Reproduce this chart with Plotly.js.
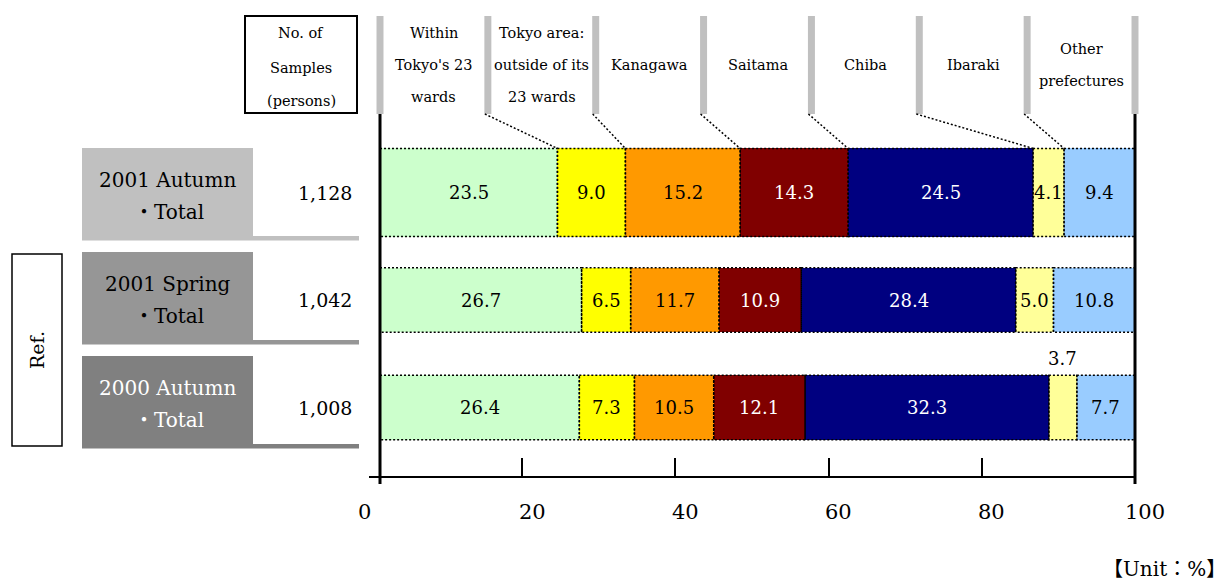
<!DOCTYPE html>
<html>
<head>
<meta charset="utf-8">
<script src="https://cdn.plot.ly/plotly-3.0.1.min.js"></script>
<style>
  html, body { margin: 0; padding: 0; background: #fff; }
  #chart { width: 1229px; height: 583px; }
</style>
</head>
<body>
<div id="chart"></div>
<script>
// Where respondents live, as a share of each survey's total (%)
const rowNames = ["2001 Autumn", "2001 Spring", "2000 Autumn"];
const rowSuffix = "・Total";
const sampleCounts = ["1,128", "1,042", "1,008"];
const countHeader = ["No. of", "Samples", "(persons)"];
const regionNames = ["Within Tokyo's 23 wards", "Tokyo area: outside of its 23 wards",
  "Kanagawa", "Saitama", "Chiba", "Ibaraki", "Other prefectures"];
const headerLines = [["Within", "Tokyo's 23", "wards"], ["Tokyo area:", "outside of its", "23 wards"],
  ["Kanagawa"], ["Saitama"], ["Chiba"], ["Ibaraki"], ["Other", "prefectures"]];
const tokyo23 = [23.5, 26.7, 26.4];
const tokyoOuter = [9.0, 6.5, 7.3];
const kanagawa = [15.2, 11.7, 10.5];
const saitama = [14.3, 10.9, 12.1];
const chiba = [24.5, 28.4, 32.3];
const ibaraki = [4.1, 5.0, 3.7];
const otherPref = [9.4, 10.8, 7.7];
const tickValues = [0, 20, 40, 60, 80, 100];
const refLabel = "Ref.";
const unitLabel = "【Unit：%】";

// ---- styling ----
const FONT = "DejaVu Serif, Noto Sans CJK JP, serif";
const regionColors = ["#CCFFCC", "#FFFF00", "#FF9900", "#800000", "#000080", "#FFFF99", "#99CCFF"];
const regionTextColors = ["#000", "#000", "#000", "#fff", "#fff", "#000", "#000"];
const rowBoxColors = ["#C0C0C0", "#969696", "#808080"];
const rowTextColors = ["#000", "#000", "#fff"];
const barWidths = [0.82, 0.6, 0.6];

// ---- page geometry (pixels) ----
const W = 1229, H = 583;
const BAR_LEFT = 380, BAR_RIGHT = 1135;   // 0 % and 100 % of the bars
const ROW0 = 192.5, ROW_PITCH = 107.5;    // first row centre, row spacing
const unit = (BAR_RIGHT - BAR_LEFT) / 100;
const xRange = [-BAR_LEFT / unit, (W - BAR_LEFT) / unit];
const yRange = [(H - ROW0) / ROW_PITCH, -ROW0 / ROW_PITCH];
const dataY = p => (p - ROW0) / ROW_PITCH;
const px = p => p / W;
const py = p => 1 - p / H;

const series = [tokyo23, tokyoOuter, kanagawa, saitama, chiba, ibaraki, otherPref];
const cats = rowNames.map(n => n + " " + rowSuffix);
const nCols = series.length;

const traces = series.map((vals, k) => ({
  type: "bar", orientation: "h", name: regionNames[k],
  y: cats, x: vals, width: barWidths,
  marker: { color: regionColors[k], line: { width: 0 } },
  hoverinfo: "skip", showlegend: false
}));
// carrier for the bottom percentage scale
traces.push({
  type: "scatter", mode: "none", xaxis: "x2", yaxis: "y",
  x: [tickValues[0], tickValues[tickValues.length - 1]], y: [cats[0], cats[0]],
  hoverinfo: "skip", showlegend: false
});

const shapes = [];
const annotations = [];
const txt = (o, size, color) => Object.assign({
  showarrow: false, xanchor: "center", yanchor: "middle",
  font: { family: FONT, size: size, color: color || "#000" }
}, o);

// segment outlines and value labels
cats.forEach((c, i) => {
  let start = 0;
  const half = barWidths[i] / 2;
  series.forEach((vals, k) => {
    const v = vals[i];
    const end = start + v;
    shapes.push({
      type: "rect", xref: "x", yref: "y", x0: start, x1: end, y0: i - half, y1: i + half,
      line: { color: "#000", width: 1.5, dash: "2px,2px" }, layer: "above"
    });
    const above = v < 4;
    annotations.push(txt({
      xref: "x", yref: "y", x: start + v / 2, y: above ? i - half : i,
      yanchor: above ? "bottom" : "middle", yshift: above ? 4 : 0,
      text: v.toFixed(1)
    }, 18, above ? "#000" : regionTextColors[k]));
    start = end;
  });
});

// column headers with grey separators
for (let k = 0; k <= nCols; k++) {
  const cx = k * 100 / nCols;
  shapes.push({
    type: "rect", xref: "x", yref: "paper",
    x0: cx - 3.5 / unit, x1: cx + 3.5 / unit, y0: py(114), y1: py(16),
    fillcolor: "#C0C0C0", line: { width: 0 }, layer: "below"
  });
}
headerLines.forEach((lines, k) => {
  const cx = (k + 0.5) * 100 / nCols;
  lines.forEach((line, j) => {
    const yp = 65 + (j - (lines.length - 1) / 2) * 32.5;
    annotations.push(txt({ xref: "x", yref: "paper", x: cx, y: py(yp), text: line }, 14.5));
  });
});

// dotted leaders from each separator to the matching boundary of the first bar
let boundary = 0;
for (let k = 1; k < nCols; k++) {
  boundary += series[k - 1][0];
  shapes.push({
    type: "line", xref: "x", yref: "y",
    x0: k * 100 / nCols - 3 / unit, y0: dataY(114),
    x1: boundary, y1: -barWidths[0] / 2,
    line: { color: "#000", width: 1.5, dash: "2px,2px" }
  });
}

// heavy frame lines at 0 % and 100 %
[0, 100].forEach(v => shapes.push({
  type: "line", xref: "x", yref: "paper", x0: v, x1: v, y0: py(484), y1: py(114),
  line: { color: "#000", width: 3 }
}));

// row name boxes
const boxTops = [148, 252, 356];
const boxH = 92.5;
rowNames.forEach((name, i) => {
  const top = boxTops[i], bottom = top + boxH;
  shapes.push({ type: "rect", xref: "paper", yref: "paper", x0: px(82), x1: px(253), y0: py(bottom), y1: py(top),
    fillcolor: rowBoxColors[i], line: { width: 0 } });
  shapes.push({ type: "rect", xref: "paper", yref: "paper", x0: px(253), x1: px(359), y0: py(bottom), y1: py(bottom - 4.5),
    fillcolor: rowBoxColors[i], line: { width: 0 } });
  const mid = top + boxH / 2;
  annotations.push(txt({ xref: "paper", yref: "paper", x: px(167.5), y: py(mid - 14), text: name }, 20, rowTextColors[i]));
  annotations.push(txt({ xref: "paper", yref: "paper", x: px(169), y: py(mid + 18), text: rowSuffix }, 20, rowTextColors[i]));
  annotations.push(txt({ xref: "paper", yref: "y", x: px(325), y: i, text: sampleCounts[i] }, 19));
});

// sample-count header box
shapes.push({ type: "rect", xref: "paper", yref: "paper", x0: px(245), x1: px(357), y0: py(113), y1: py(16),
  line: { color: "#000", width: 2 }, fillcolor: "rgba(0,0,0,0)" });
[33, 68, 101].forEach((yp, j) => annotations.push(txt({
  xref: "paper", yref: "paper", x: px(301), y: py(yp), text: countHeader[j]
}, 14.5)));

// "Ref." bracket box
shapes.push({ type: "rect", xref: "paper", yref: "paper", x0: px(12), x1: px(62), y0: py(446), y1: py(254),
  line: { color: "#000", width: 1.5 }, fillcolor: "#fff" });
annotations.push(txt({ xref: "paper", yref: "paper", x: px(37), y: py(350), textangle: -90, text: refLabel }, 19));

// bottom scale labels
tickValues.forEach(t => annotations.push(txt({
  xref: "x2", yref: "paper", x: t, y: py(512),
  xshift: t === 0 ? -4.5 : 10, text: String(t)
}, 21)));

annotations.push(txt({ xref: "paper", yref: "paper", x: px(1228), y: py(569), xanchor: "right",
  text: unitLabel }, 20));

const layout = {
  width: W, height: H,
  margin: { l: 0, r: 0, t: 0, b: 0, pad: 0 },
  paper_bgcolor: "#fff", plot_bgcolor: "rgba(0,0,0,0)",
  barmode: "stack", showlegend: false,
  font: { family: FONT, color: "#000" },
  xaxis: { domain: [0, 1], range: xRange, visible: false, fixedrange: true },
  yaxis: { domain: [0, 1], range: yRange, visible: false, fixedrange: true,
    type: "category", categoryorder: "array", categoryarray: cats },
  xaxis2: {
    domain: [px(369), px(BAR_RIGHT)], range: [0, 100], anchor: "free", position: py(476),
    showline: true, linecolor: "#000", linewidth: 1.5,
    ticks: "inside", ticklen: 18, tickwidth: 2, tickcolor: "#000",
    tickvals: tickValues, showticklabels: false, showgrid: false, zeroline: false, fixedrange: true
  },
  shapes: shapes,
  annotations: annotations
};

Plotly.newPlot("chart", traces, layout, { staticPlot: true, displayModeBar: false });
</script>
</body>
</html>
